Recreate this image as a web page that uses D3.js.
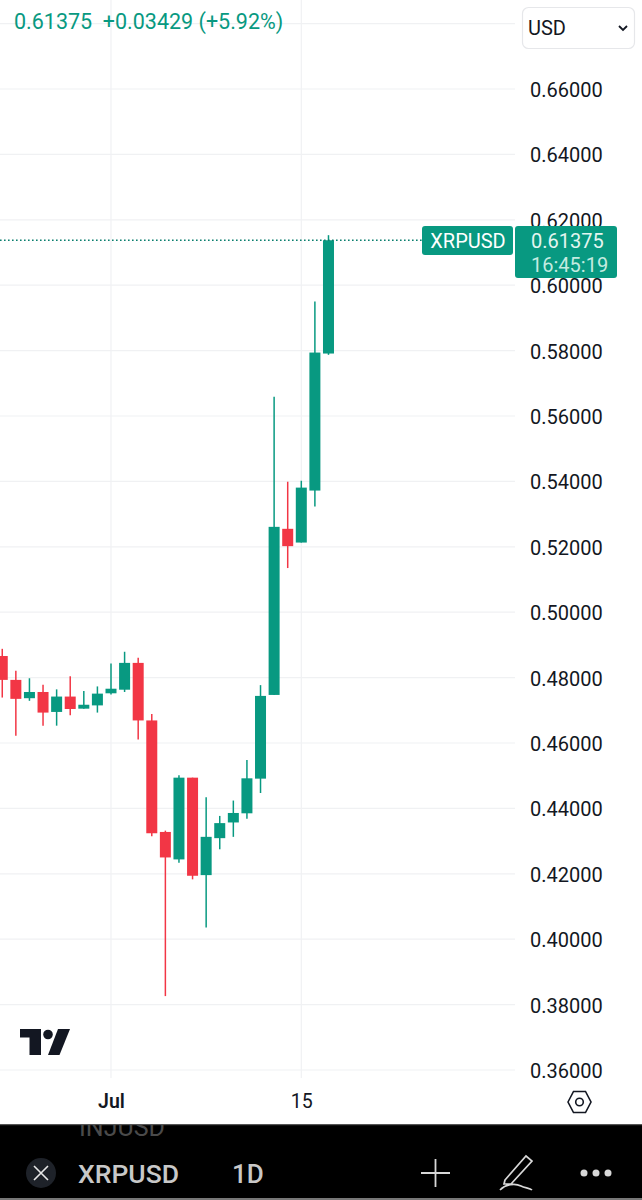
<!DOCTYPE html>
<html><head><meta charset="utf-8">
<script src="https://cdn.jsdelivr.net/npm/d3@7/dist/d3.min.js"></script>
<style>
html,body{margin:0;padding:0;background:#fff}
svg{display:block;font-family:Roboto,sans-serif}
.domain{display:none}
</style></head><body>
<svg id="c" width="642" height="1200"></svg>
<script>
const dates=["2024-06-23","2024-06-24","2024-06-25","2024-06-26","2024-06-27","2024-06-28","2024-06-29","2024-06-30","2024-07-01","2024-07-02","2024-07-03","2024-07-04","2024-07-05","2024-07-06","2024-07-07","2024-07-08","2024-07-09","2024-07-10","2024-07-11","2024-07-12","2024-07-13","2024-07-14","2024-07-15","2024-07-16","2024-07-17"];
const opens =[0.4866,0.4793,0.4737,0.4756,0.4695,0.4742,0.4705,0.4715,0.4752,0.4763,0.4845,0.4669,0.4328,0.4244,0.4494,0.4196,0.4309,0.4357,0.4385,0.4491,0.4747,0.5255,0.5213,0.5372,0.5791];
const closes=[0.4793,0.4735,0.4756,0.4693,0.4742,0.4704,0.4717,0.4751,0.4766,0.4845,0.4669,0.4324,0.4250,0.4494,0.4194,0.4313,0.4355,0.4386,0.4492,0.4744,0.5261,0.5202,0.5381,0.5794,0.61375];
const highs =[0.4888,0.4821,0.4798,0.4778,0.4764,0.4804,0.4759,0.4773,0.4843,0.4879,0.4861,0.4689,0.4332,0.4501,0.4494,0.4434,0.4377,0.4424,0.4548,0.4777,0.5659,0.5399,0.5402,0.5950,0.6153];
const lows  =[0.4739,0.4622,0.4729,0.4653,0.4653,0.4685,0.4705,0.4693,0.4748,0.4756,0.4611,0.4315,0.3826,0.4234,0.4183,0.4036,0.4275,0.4313,0.4368,0.4447,0.4747,0.5135,0.5213,0.5323,0.5787];
const priceTicks=[0.68,0.66,0.64,0.62,0.60,0.58,0.56,0.54,0.52,0.50,0.48,0.46,0.44,0.42,0.40,0.38,0.36];
const timeTicks=["2024-07-01","2024-07-15"];
const timeLabels=["Jul","15"];
const lastPrice=0.61375;

const UP="#089981",DOWN="#f23645",GRID="#f0f1f3",INK="#131722";
const parse=d3.utcParse("%Y-%m-%d");
const x=d3.scaleUtc().domain([parse(timeTicks[0]),parse(timeTicks[1])]).range([111,301.3]);
const y=d3.scaleLinear().domain([0.66,0.36]).range([89,1070]);
const svg=d3.select("#c");
const chart=svg.append("g");

// horizontal grid & price labels
const ya=d3.axisRight(y).tickValues(priceTicks.filter(v=>v<0.67)).tickSize(0).tickPadding(0).tickFormat(d3.format(".5f"));
chart.selectAll("line.h").data(priceTicks).join("line").attr("class","h")
 .attr("x1",0).attr("x2",515).attr("y1",d=>y(d)).attr("y2",d=>y(d)).attr("stroke",GRID).attr("stroke-width",1.2);
// vertical grid
chart.selectAll("line.v").data(timeTicks).join("line").attr("class","v")
 .attr("x1",d=>x(parse(d))).attr("x2",d=>x(parse(d))).attr("y1",0).attr("y2",1078).attr("stroke",GRID).attr("stroke-width",1.2);

const yg=svg.append("g").attr("transform","translate(530,1)").call(ya);
yg.selectAll("text").attr("font-size",20).attr("fill",INK).attr("font-family","Roboto");

// x axis
const xa=d3.axisBottom(x).tickValues(timeTicks.map(parse)).tickSize(0).tickPadding(0).tickFormat((d,i)=>timeLabels[i]);
const xg=svg.append("g").attr("transform","translate(0,1094)").call(xa);
xg.selectAll("text").attr("font-size",19.5).attr("fill",INK).attr("font-family","Roboto").attr("font-weight",(d,i)=>i==0?600:400);

// candles
const cg=svg.append("g");
dates.forEach((d,i)=>{
  const cx=x(parse(d)),o=opens[i],c=closes[i],col=c>=o?UP:DOWN;
  cg.append("line").attr("x1",cx).attr("x2",cx).attr("y1",y(highs[i])).attr("y2",y(lows[i])).attr("stroke",col).attr("stroke-width",1.5);
  cg.append("rect").attr("x",cx-5.5).attr("width",11).attr("y",y(Math.max(o,c))).attr("height",Math.abs(y(o)-y(c))).attr("fill",col);
});

// last price line
svg.append("line").attr("x1",0).attr("x2",422).attr("y1",y(lastPrice)).attr("y2",y(lastPrice))
 .attr("stroke","#0a7f6e").attr("stroke-width",1.4).attr("stroke-dasharray","1.6 2.4");

// logo
svg.append("path").attr("fill","#131722").attr("d","M20 1029H41V1055H29.5V1037.5H20Z");
svg.append("circle").attr("cx",48).attr("cy",1034.5).attr("r",4.8).attr("fill","#131722");
svg.append("path").attr("fill","#131722").attr("d","M58 1029H70L59.5 1055H48Z");

// currency box
svg.append("rect").attr("x",522.5).attr("y",7.5).attr("width",112).attr("height",41).attr("rx",6).attr("fill","#fff").attr("stroke","#e6e7ea").attr("stroke-width",1.2);
svg.append("text").attr("x",528).attr("y",35).attr("font-size",20).attr("fill",INK).text("USD");
svg.append("path").attr("d","M619 26L623 30L627 26").attr("fill","none").attr("stroke",INK).attr("stroke-width",1.8);

// header
svg.append("text").attr("x",14).attr("y",29).attr("font-size",21.5).attr("fill",UP).attr("xml:space","preserve").text("0.61375  +0.03429 (+5.92%)");

// price tags
svg.append("rect").attr("x",422).attr("y",226).attr("width",91).attr("height",29).attr("rx",3).attr("fill",UP);
svg.append("text").attr("x",468).attr("y",248).attr("text-anchor","middle").attr("font-size",20).attr("fill","#fff").text("XRPUSD");
svg.append("rect").attr("x",515).attr("y",226).attr("width",102).attr("height",52).attr("rx",3).attr("fill",UP);
svg.append("text").attr("x",531).attr("y",248).attr("font-size",20).attr("fill","#e4f5f0").text(d3.format(".5f")(lastPrice));
svg.append("text").attr("x",531).attr("y",272).attr("font-size",20).attr("fill","#c4ebe0").text("16:45:19");

// settings hexagon
svg.append("path").attr("d","M568 1102L573.5 1091.5H585.5L591 1102L585.5 1112.5H573.5Z").attr("fill","none").attr("stroke",INK).attr("stroke-width",1.6);
svg.append("circle").attr("cx",579.5).attr("cy",1102).attr("r",3.8).attr("fill","none").attr("stroke",INK).attr("stroke-width",1.6);

// bottom bar
svg.append("rect").attr("x",0).attr("y",1124).attr("width",642).attr("height",76).attr("fill","#000");
svg.append("rect").attr("x",0).attr("y",1124).attr("width",642).attr("height",1.2).attr("fill","#555");
svg.append("rect").attr("x",0).attr("y",1198).attr("width",642).attr("height",2).attr("fill","#777");
svg.append("clipPath").attr("id","bar").append("rect").attr("x",0).attr("y",1125).attr("width",642).attr("height",75);
svg.append("text").attr("x",79).attr("y",1136).attr("font-size",25).attr("fill","#4a4a4a").attr("clip-path","url(#bar)").text("INJUSD");
svg.append("circle").attr("cx",41).attr("cy",1173).attr("r",15).attr("fill","#1e2229");
svg.append("path").attr("d","M34 1166L48 1180M48 1166L34 1180").attr("stroke","#e8e8e8").attr("stroke-width",1.6).attr("fill","none");
svg.append("text").attr("x",78).attr("y",1182.5).attr("font-size",26.5).attr("font-weight",500).attr("fill","#c8c8c8").text("XRPUSD");
svg.append("text").attr("x",232).attr("y",1182.5).attr("font-size",26).attr("font-weight",500).attr("fill","#c8c8c8").text("1D");
svg.append("path").attr("d","M421 1173H450M435.5 1159V1187").attr("stroke","#d8d8d8").attr("stroke-width",1.8).attr("fill","none");
svg.append("path").attr("d","M505 1180L526 1156L532 1161L511 1184L504 1184ZM500 1190C506 1184 515 1183 521 1186C525 1188 530 1188 532 1190").attr("stroke","#d8d8d8").attr("stroke-width",1.7).attr("fill","none");
[584,596,608].forEach(v=>svg.append("circle").attr("cx",v).attr("cy",1173).attr("r",3.5).attr("fill","#d8d8d8"));
</script>
</body></html>
